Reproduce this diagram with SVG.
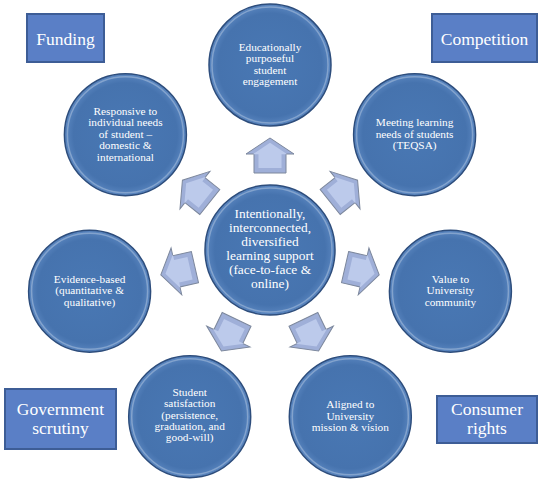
<svg xmlns="http://www.w3.org/2000/svg" xmlns:xlink="http://www.w3.org/1999/xlink" width="541" height="481" viewBox="0 0 541 481" font-family="'Liberation Serif', 'Times New Roman', Times, 'DejaVu Serif', serif">
<style>
text{font-family:'Liberation Serif','Times New Roman',Times,'DejaVu Serif',serif}
.circ{fill:url(#cg);stroke:#2d4d7c;stroke-width:1.5}
.hl{fill:none;stroke:#ffffff;stroke-opacity:0.28;stroke-width:1.5}
.ct{font-size:11.3px;fill:#ffffff;text-anchor:middle}
.cc{font-size:13.4px;fill:#ffffff;text-anchor:middle}
.box{fill:#5a7fc6;stroke:#3d5d96;stroke-width:2}
.bt{font-size:17.5px;fill:#ffffff;text-anchor:middle}
.arr{fill:#9fafd8;stroke:#7c879c;stroke-width:1}
.arri{fill:#bccaeb;stroke:none}
</style>
<defs>
<radialGradient id="cg" cx="0.5" cy="0.5" r="0.5">
<stop offset="0" stop-color="#4978b4"/>
<stop offset="0.85" stop-color="#4673ae"/>
<stop offset="1" stop-color="#5a86c0"/>
</radialGradient>
<path id="ap" d="M77,-16 L96,-16 L96,-24 L112,0 L96,24 L96,16 L77,16 Z"/>
<g id="arrow">
<use xlink:href="#ap" class="arr"/>
<use xlink:href="#ap" class="arri" transform="translate(95,0) scale(0.72) translate(-95,0)"/>
</g>
</defs>
<rect width="541" height="481" fill="#ffffff"/>

<g id="connectors">
<use xlink:href="#arrow" transform="translate(270,250) rotate(-90)"/>
<use xlink:href="#arrow" transform="translate(270,250) rotate(-38.571)"/>
<use xlink:href="#arrow" transform="translate(270,250) rotate(12.857)"/>
<use xlink:href="#arrow" transform="translate(270,250) rotate(64.286)"/>
<use xlink:href="#arrow" transform="translate(270,250) rotate(115.714)"/>
<use xlink:href="#arrow" transform="translate(270,250) rotate(167.143)"/>
<use xlink:href="#arrow" transform="translate(270,250) rotate(218.571)"/>
</g>

<g id="center">
<circle class="circ" cx="270" cy="250" r="65"/>
<circle class="hl" cx="270" cy="250" r="62"/>
<text class="cc" font-family="'Liberation Serif', serif"><tspan x="270" y="218">Intentionally,</tspan><tspan x="270" y="232">interconnected,</tspan><tspan x="270" y="246">diversified</tspan><tspan x="270" y="260">learning support</tspan><tspan x="270" y="274">(face-to-face &amp;</tspan><tspan x="270" y="288">online)</tspan></text>
</g>

<g id="n0">
<circle class="circ" cx="270" cy="65" r="61"/>
<circle class="hl" cx="270" cy="65" r="58"/>
<text class="ct"><tspan x="270" y="50.8">Educationally</tspan><tspan x="270" y="62.3">purposeful</tspan><tspan x="270" y="73.8">student</tspan><tspan x="270" y="85.3">engagement</tspan></text>
</g>

<g id="n1">
<circle class="circ" cx="414.6" cy="134.7" r="61"/>
<circle class="hl" cx="414.6" cy="134.7" r="58"/>
<text class="ct"><tspan x="414.6" y="126.2">Meeting learning</tspan><tspan x="414.6" y="137.7">needs of students</tspan><tspan x="414.6" y="149.2">(TEQSA)</tspan></text>
</g>

<g id="n2">
<circle class="circ" cx="450.4" cy="291.2" r="61"/>
<circle class="hl" cx="450.4" cy="291.2" r="58"/>
<text class="ct"><tspan x="450.4" y="282.5">Value to</tspan><tspan x="450.4" y="294">University</tspan><tspan x="450.4" y="305.5">community</tspan></text>
</g>

<g id="n3">
<circle class="circ" cx="350.3" cy="416.7" r="61"/>
<circle class="hl" cx="350.3" cy="416.7" r="58"/>
<text class="ct"><tspan x="350.3" y="408">Aligned to</tspan><tspan x="350.3" y="419.5">University</tspan><tspan x="350.3" y="431">mission &amp; vision</tspan></text>
</g>

<g id="n4">
<circle class="circ" cx="189.7" cy="416.7" r="61"/>
<circle class="hl" cx="189.7" cy="416.7" r="58"/>
<text class="ct"><tspan x="189.7" y="396">Student</tspan><tspan x="189.7" y="407.3">satisfaction</tspan><tspan x="189.7" y="418.6">(persistence,</tspan><tspan x="189.7" y="429.9">graduation, and</tspan><tspan x="189.7" y="441.2">good-will)</tspan></text>
</g>

<g id="n5">
<circle class="circ" cx="89.6" cy="291.2" r="61"/>
<circle class="hl" cx="89.6" cy="291.2" r="58"/>
<text class="ct"><tspan x="89.6" y="282.8">Evidence-based</tspan><tspan x="89.6" y="294.3">(quantitative &amp;</tspan><tspan x="89.6" y="305.8">qualitative)</tspan></text>
</g>

<g id="n6">
<circle class="circ" cx="125.4" cy="134.7" r="61"/>
<circle class="hl" cx="125.4" cy="134.7" r="58"/>
<text class="ct"><tspan x="125.4" y="114.6">Responsive to</tspan><tspan x="125.4" y="126.1">individual needs</tspan><tspan x="125.4" y="137.6">of student –</tspan><tspan x="125.4" y="149.1">domestic &amp;</tspan><tspan x="125.4" y="160.6">international</tspan></text>
</g>

<g id="funding">
<rect class="box" x="27" y="14" width="77" height="48"/>
<text class="bt" x="65.5" y="44.5">Funding</text>
</g>

<g id="competition">
<rect class="box" x="432" y="14" width="105" height="48"/>
<text class="bt" x="484.5" y="44.5">Competition</text>
</g>

<g id="government">
<rect class="box" x="5" y="389" width="111" height="60"/>
<text class="bt"><tspan x="60.5" y="415">Government</tspan><tspan x="60.5" y="434">scrutiny</tspan></text>
</g>

<g id="consumer">
<rect class="box" x="437" y="396" width="100" height="47"/>
<text class="bt"><tspan x="487" y="415">Consumer</tspan><tspan x="487" y="434">rights</tspan></text>
</g>
</svg>
